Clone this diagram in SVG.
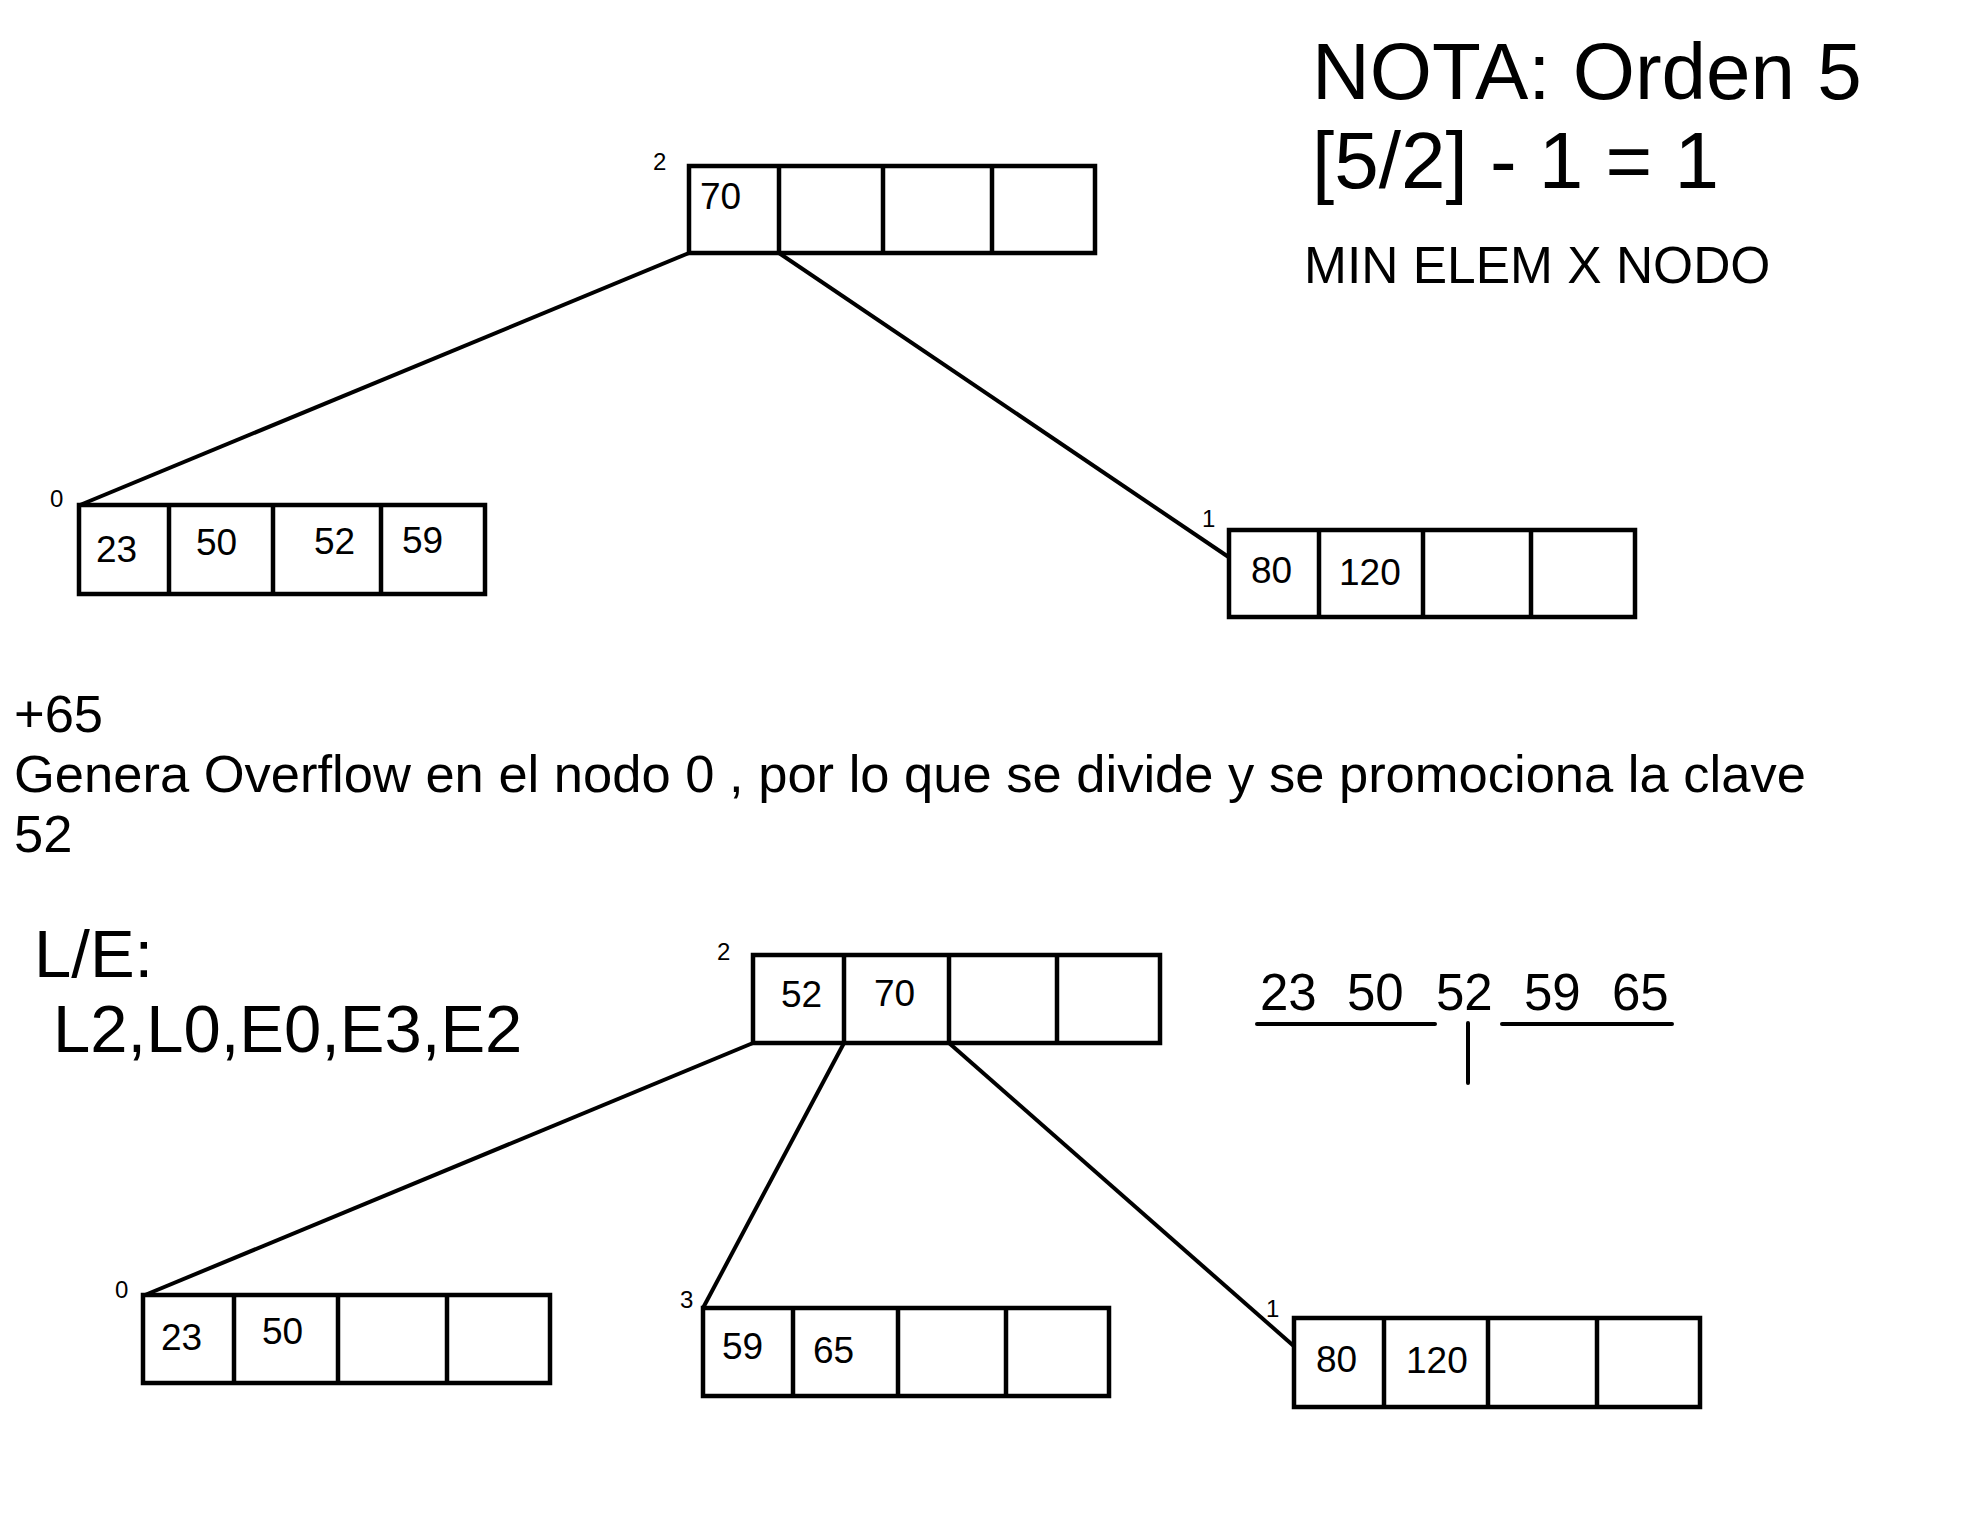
<svg xmlns="http://www.w3.org/2000/svg" width="1976" height="1520" viewBox="0 0 1976 1520">
<style>
text{font-family:"Liberation Sans",Arial,sans-serif;fill:#000}
.box{fill:#fff;stroke:#000;stroke-width:4.5}
.div{stroke:#000;stroke-width:4.5}
.k{font-size:37px}
.lbl{font-size:24px}
.edge{stroke:#000;stroke-width:4;fill:none}
.big{font-size:80px}
</style>
<rect width="1976" height="1520" fill="#fff"/>
<g id="connectors">
<line class="edge" x1="689" y1="253" x2="80" y2="505"/>
<line class="edge" x1="779" y1="253" x2="1230" y2="558"/>
<line class="edge" x1="753" y1="1043" x2="145" y2="1295"/>
<line class="edge" x1="844" y1="1043" x2="703" y2="1308"/>
<line class="edge" x1="949" y1="1043" x2="1296" y2="1348"/>
</g>
<g id="top-root">
<text class="lbl" x="653" y="170">2</text>
<rect class="box" x="689" y="166" width="406" height="87"/>
<line class="div" x1="779" y1="166" x2="779" y2="253"/>
<line class="div" x1="883" y1="166" x2="883" y2="253"/>
<line class="div" x1="992" y1="166" x2="992" y2="253"/>
<text class="k" x="700" y="209">70</text>
</g>
<g id="top-node0">
<text class="lbl" x="50" y="507">0</text>
<rect class="box" x="79" y="505" width="406" height="89"/>
<line class="div" x1="169" y1="505" x2="169" y2="594"/>
<line class="div" x1="273" y1="505" x2="273" y2="594"/>
<line class="div" x1="381" y1="505" x2="381" y2="594"/>
<text class="k" x="96" y="562">23</text>
<text class="k" x="196" y="555">50</text>
<text class="k" x="314" y="554">52</text>
<text class="k" x="402" y="553">59</text>
</g>
<g id="top-node1">
<text class="lbl" x="1202" y="527">1</text>
<rect class="box" x="1229" y="530" width="406" height="87"/>
<line class="div" x1="1319" y1="530" x2="1319" y2="617"/>
<line class="div" x1="1423" y1="530" x2="1423" y2="617"/>
<line class="div" x1="1531" y1="530" x2="1531" y2="617"/>
<text class="k" x="1251" y="583">80</text>
<text class="k" x="1339" y="585">120</text>
</g>
<g id="nota">
<text class="big" x="1312" y="99">NOTA: Orden 5</text>
<text class="big" x="1312" y="188">[5/2] - 1 = 1</text>
<text x="1304" y="283" font-size="51.5">MIN ELEM X NODO</text>
</g>
<g id="desc" font-size="52.5">
<text x="14" y="732">+65</text>
<text x="14" y="792">Genera Overflow en el nodo 0 , por lo que se divide y se promociona la clave</text>
<text x="14" y="852">52</text>
</g>
<g id="le" font-size="67">
<text x="34" y="977">L/E:</text>
<text x="53" y="1052">L2,L0,E0,E3,E2</text>
</g>
<g id="split">
<text font-size="51" y="1010"><tspan x="1260">23</tspan><tspan x="1347">50</tspan><tspan x="1436">52</tspan><tspan x="1524">59</tspan><tspan x="1612">65</tspan></text>
<line x1="1257" y1="1024" x2="1435" y2="1024" stroke="#000" stroke-width="4" stroke-linecap="round"/>
<line x1="1502" y1="1024" x2="1672" y2="1024" stroke="#000" stroke-width="4" stroke-linecap="round"/>
<line x1="1468" y1="1023" x2="1468" y2="1083" stroke="#000" stroke-width="4" stroke-linecap="round"/>
</g>
<g id="bot-root">
<text class="lbl" x="717" y="960">2</text>
<rect class="box" x="753" y="955" width="407" height="88"/>
<line class="div" x1="844" y1="955" x2="844" y2="1043"/>
<line class="div" x1="949" y1="955" x2="949" y2="1043"/>
<line class="div" x1="1057" y1="955" x2="1057" y2="1043"/>
<text class="k" x="781" y="1007">52</text>
<text class="k" x="874" y="1006">70</text>
</g>
<g id="bot-node0">
<text class="lbl" x="115" y="1298">0</text>
<rect class="box" x="143" y="1295" width="407" height="88"/>
<line class="div" x1="234" y1="1295" x2="234" y2="1383"/>
<line class="div" x1="338" y1="1295" x2="338" y2="1383"/>
<line class="div" x1="447" y1="1295" x2="447" y2="1383"/>
<text class="k" x="161" y="1350">23</text>
<text class="k" x="262" y="1344">50</text>
</g>
<g id="bot-node3">
<text class="lbl" x="680" y="1308">3</text>
<rect class="box" x="703" y="1308" width="406" height="88"/>
<line class="div" x1="793" y1="1308" x2="793" y2="1396"/>
<line class="div" x1="898" y1="1308" x2="898" y2="1396"/>
<line class="div" x1="1006" y1="1308" x2="1006" y2="1396"/>
<text class="k" x="722" y="1359">59</text>
<text class="k" x="813" y="1363">65</text>
</g>
<g id="bot-node1">
<text class="lbl" x="1266" y="1317">1</text>
<rect class="box" x="1294" y="1318" width="406" height="89"/>
<line class="div" x1="1384" y1="1318" x2="1384" y2="1407"/>
<line class="div" x1="1488" y1="1318" x2="1488" y2="1407"/>
<line class="div" x1="1597" y1="1318" x2="1597" y2="1407"/>
<text class="k" x="1316" y="1372">80</text>
<text class="k" x="1406" y="1373">120</text>
</g>
</svg>
